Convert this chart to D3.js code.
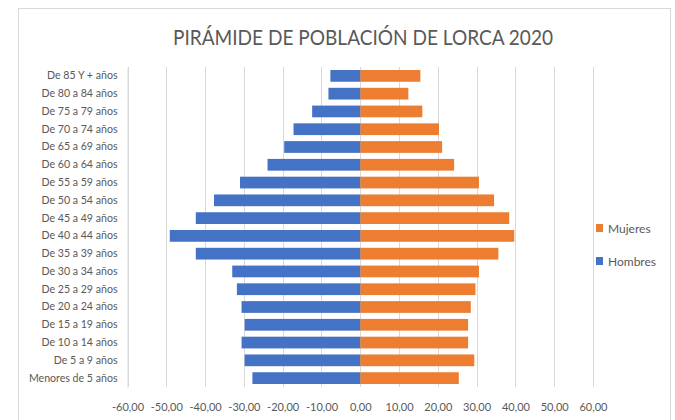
<!DOCTYPE html>
<html>
<head>
<meta charset="utf-8">
<script src="https://cdnjs.cloudflare.com/ajax/libs/d3/7.8.5/d3.min.js"></script>
<style>
  body { margin: 0; background: #fff; }
  svg text { fill: #595959; font-family: Lato, "Liberation Sans", sans-serif; }
</style>
</head>
<body>
<svg id="chart" width="675" height="420"></svg>
<script>
// grupos de edad, de arriba a abajo
var grupos = ["De 85 Y + años", "De 80 a 84 años", "De 75 a 79 años", "De 70 a 74 años",
  "De 65 a 69 años", "De 60 a 64 años", "De 55 a 59 años", "De 50 a 54 años",
  "De 45 a 49 años", "De 40 a 44 años", "De 35 a 39 años", "De 30 a 34 años",
  "De 25 a 29 años", "De 20 a 24 años", "De 15 a 19 años", "De 10 a 14 años",
  "De 5 a 9 años", "Menores de 5 años"];

// hombres en negativo, como en la hoja original
var hombres = [-7.7, -8.2, -12.4, -17.2, -19.6, -23.9, -31.0, -37.7, -42.4,
  -49.1, -42.4, -33.0, -31.8, -30.6, -29.8, -30.6, -29.8, -27.8];
var mujeres = [15.5, 12.4, 16.0, 20.3, 21.1, 24.2, 30.6, 34.5, 38.4,
  39.7, 35.6, 30.6, 29.7, 28.5, 27.8, 27.8, 29.4, 25.4];

var ticksX = [-60, -50, -40, -30, -20, -10, 0, 10, 20, 30, 40, 50, 60];

var series = [
  {name: "Mujeres", color: "#ed7d31", values: mujeres},
  {name: "Hombres", color: "#4472c4", values: hombres}
];

var svg = d3.select("#chart");

// marco del gráfico
svg.append("rect")
  .attr("x", 18.5).attr("y", 8.5)
  .attr("width", 652).attr("height", 420)
  .attr("fill", "#fff")
  .attr("stroke", "#d9d9d9");

var plotTop = 67, plotBottom = 387;
var x = d3.scaleLinear().domain([-60, 60]).range([127.5, 593]);
var y = d3.scaleBand().domain(grupos).range([plotTop, plotBottom])
  .paddingInner(0.34).paddingOuter(0.17);

var es = d3.formatLocale({decimal: ",", thousands: ".", grouping: [3], currency: ["", "€"], minus: "-"});
var fmt = es.format(".2f");

// rejilla vertical
svg.append("g")
  .selectAll("line")
  .data(ticksX).enter()
  .append("line")
  .attr("x1", function(d) { return Math.round(x(d)) + 0.5; })
  .attr("x2", function(d) { return Math.round(x(d)) + 0.5; })
  .attr("y1", plotTop)
  .attr("y2", plotBottom)
  .attr("stroke", "#d9d9d9");

// barras
series.forEach(function(s) {
  svg.append("g")
    .selectAll("rect")
    .data(s.values).enter()
    .append("rect")
    .attr("x", function(d) { return x(Math.min(0, d)); })
    .attr("y", function(d, i) { return y(grupos[i]); })
    .attr("width", function(d) { return Math.abs(x(d) - x(0)); })
    .attr("height", y.bandwidth())
    .attr("fill", s.color);
});

// eje X
var xAxis = svg.append("g")
  .attr("transform", "translate(0," + 403 + ")")
  .call(d3.axisBottom(x).tickValues(ticksX).tickFormat(fmt).tickSize(0).tickPadding(0));
xAxis.select(".domain").remove();
xAxis.selectAll("text")
  .style("font-size", "11px")
  .attr("dy", "0.71em");

// eje Y
var yAxis = svg.append("g")
  .attr("transform", "translate(" + 127.5 + ",0)")
  .call(d3.axisLeft(y).tickSize(0).tickPadding(10));
yAxis.select(".domain").attr("stroke", "#d9d9d9");
yAxis.selectAll("text").style("font-size", "10.6px");

// título
svg.append("text")
  .attr("x", 363)
  .attr("y", 45)
  .attr("text-anchor", "middle")
  .attr("textLength", 380)
  .attr("lengthAdjust", "spacingAndGlyphs")
  .style("font-size", "21.5px")
  .text("PIRÁMIDE DE POBLACIÓN DE LORCA 2020");

// leyenda
var legend = svg.append("g")
  .selectAll("g")
  .data(series).enter()
  .append("g")
  .attr("transform", function(d, i) { return "translate(596," + (224 + i * 33) + ")"; });
legend.append("rect")
  .attr("width", 7).attr("height", 8)
  .attr("fill", function(d) { return d.color; });
legend.append("text")
  .attr("x", 12)
  .attr("y", 9)
  .style("font-size", "12px")
  .text(function(d) { return d.name; });
</script>
</body>
</html>
